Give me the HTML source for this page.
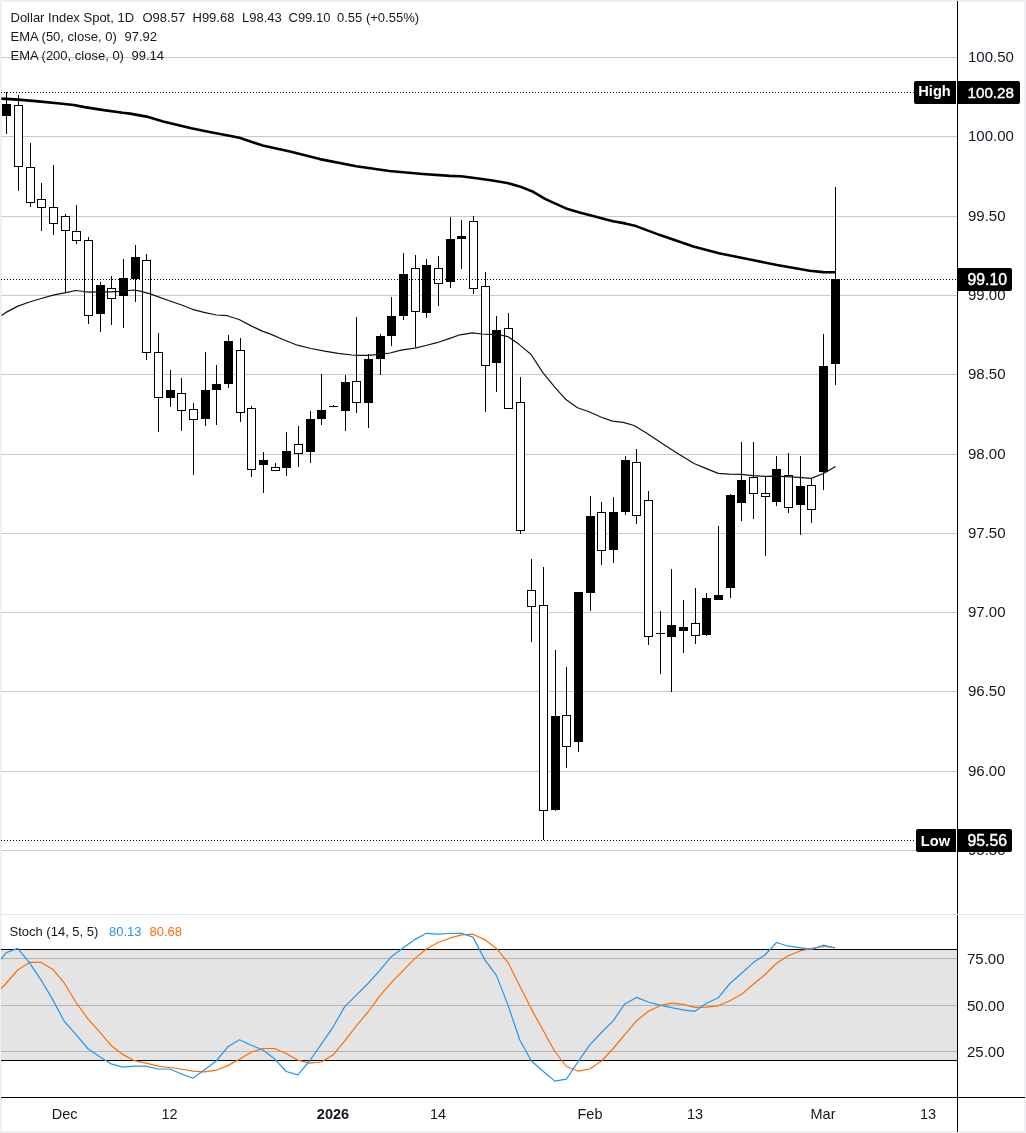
<!DOCTYPE html><html><head><meta charset="utf-8"><title>Dollar Index Spot chart</title><style>
html,body{margin:0;padding:0;background:#eef0f3;width:1026px;height:1133px;overflow:hidden}
svg{position:absolute;left:0;top:0;display:block;will-change:transform}
text{font-family:"Liberation Sans",Arial,sans-serif}
</style></head><body>
<svg width="1026" height="1133" viewBox="0 0 1026 1133">
<rect x="2" y="2" width="1022" height="1129" fill="#ffffff"/>
<g shape-rendering="crispEdges">
<rect x="1" y="57" width="956" height="1" fill="#c9c9c9"/>
<rect x="1" y="136" width="956" height="1" fill="#c9c9c9"/>
<rect x="1" y="216" width="956" height="1" fill="#c9c9c9"/>
<rect x="1" y="295" width="956" height="1" fill="#c9c9c9"/>
<rect x="1" y="374" width="956" height="1" fill="#c9c9c9"/>
<rect x="1" y="454" width="956" height="1" fill="#c9c9c9"/>
<rect x="1" y="533" width="956" height="1" fill="#c9c9c9"/>
<rect x="1" y="612" width="956" height="1" fill="#c9c9c9"/>
<rect x="1" y="691" width="956" height="1" fill="#c9c9c9"/>
<rect x="1" y="771" width="956" height="1" fill="#c9c9c9"/>
<rect x="1" y="850" width="956" height="1" fill="#c9c9c9"/>
<rect x="1" y="950" width="956" height="110" fill="#e4e4e4"/>
<rect x="1" y="958" width="956" height="1" fill="#b4b4b4"/>
<rect x="1" y="1005" width="956" height="1" fill="#b4b4b4"/>
<rect x="1" y="1051" width="956" height="1" fill="#b4b4b4"/>
<rect x="1" y="949" width="956" height="1" fill="#000"/>
<rect x="1" y="1060" width="956" height="1" fill="#000"/>
</g>
<g shape-rendering="crispEdges">
<rect x="6" y="92" width="1" height="42" fill="#000"/>
<rect x="2" y="104" width="9" height="12" fill="#000"/>
<rect x="18" y="95" width="1" height="96" fill="#000"/>
<rect x="14" y="105" width="9" height="62" fill="#000"/>
<rect x="15" y="106" width="7" height="60" fill="#fff"/>
<rect x="30" y="143" width="1" height="64" fill="#000"/>
<rect x="26" y="167" width="9" height="36" fill="#000"/>
<rect x="27" y="168" width="7" height="34" fill="#fff"/>
<rect x="41" y="183" width="1" height="48" fill="#000"/>
<rect x="37" y="199" width="9" height="9" fill="#000"/>
<rect x="38" y="200" width="7" height="7" fill="#fff"/>
<rect x="53" y="165" width="1" height="70" fill="#000"/>
<rect x="49" y="207" width="9" height="17" fill="#000"/>
<rect x="50" y="208" width="7" height="15" fill="#fff"/>
<rect x="65" y="214" width="1" height="78" fill="#000"/>
<rect x="61" y="216" width="9" height="15" fill="#000"/>
<rect x="62" y="217" width="7" height="13" fill="#fff"/>
<rect x="76" y="205" width="1" height="39" fill="#000"/>
<rect x="72" y="231" width="9" height="10" fill="#000"/>
<rect x="73" y="232" width="7" height="8" fill="#fff"/>
<rect x="88" y="237" width="1" height="87" fill="#000"/>
<rect x="84" y="240" width="9" height="76" fill="#000"/>
<rect x="85" y="241" width="7" height="74" fill="#fff"/>
<rect x="100" y="282" width="1" height="50" fill="#000"/>
<rect x="96" y="285" width="9" height="29" fill="#000"/>
<rect x="111" y="276" width="1" height="49" fill="#000"/>
<rect x="107" y="288" width="9" height="11" fill="#000"/>
<rect x="108" y="289" width="7" height="9" fill="#fff"/>
<rect x="123" y="259" width="1" height="69" fill="#000"/>
<rect x="119" y="278" width="9" height="18" fill="#000"/>
<rect x="135" y="245" width="1" height="57" fill="#000"/>
<rect x="131" y="257" width="9" height="22" fill="#000"/>
<rect x="146" y="254" width="1" height="106" fill="#000"/>
<rect x="142" y="260" width="9" height="93" fill="#000"/>
<rect x="143" y="261" width="7" height="91" fill="#fff"/>
<rect x="158" y="333" width="1" height="99" fill="#000"/>
<rect x="154" y="352" width="9" height="46" fill="#000"/>
<rect x="155" y="353" width="7" height="44" fill="#fff"/>
<rect x="170" y="370" width="1" height="37" fill="#000"/>
<rect x="166" y="390" width="9" height="8" fill="#000"/>
<rect x="181" y="378" width="1" height="53" fill="#000"/>
<rect x="177" y="393" width="9" height="18" fill="#000"/>
<rect x="178" y="394" width="7" height="16" fill="#fff"/>
<rect x="193" y="403" width="1" height="72" fill="#000"/>
<rect x="189" y="409" width="9" height="11" fill="#000"/>
<rect x="190" y="410" width="7" height="9" fill="#fff"/>
<rect x="205" y="352" width="1" height="74" fill="#000"/>
<rect x="201" y="390" width="9" height="29" fill="#000"/>
<rect x="216" y="365" width="1" height="60" fill="#000"/>
<rect x="212" y="384" width="9" height="6" fill="#000"/>
<rect x="228" y="335" width="1" height="53" fill="#000"/>
<rect x="224" y="341" width="9" height="43" fill="#000"/>
<rect x="240" y="338" width="1" height="84" fill="#000"/>
<rect x="236" y="350" width="9" height="63" fill="#000"/>
<rect x="237" y="351" width="7" height="61" fill="#fff"/>
<rect x="251" y="406" width="1" height="71" fill="#000"/>
<rect x="247" y="408" width="9" height="62" fill="#000"/>
<rect x="248" y="409" width="7" height="60" fill="#fff"/>
<rect x="263" y="452" width="1" height="41" fill="#000"/>
<rect x="259" y="460" width="9" height="5" fill="#000"/>
<rect x="275" y="463" width="1" height="8" fill="#000"/>
<rect x="271" y="467" width="9" height="4" fill="#000"/>
<rect x="272" y="468" width="7" height="2" fill="#fff"/>
<rect x="286" y="432" width="1" height="44" fill="#000"/>
<rect x="282" y="451" width="9" height="17" fill="#000"/>
<rect x="298" y="426" width="1" height="41" fill="#000"/>
<rect x="294" y="444" width="9" height="10" fill="#000"/>
<rect x="295" y="445" width="7" height="8" fill="#fff"/>
<rect x="310" y="411" width="1" height="52" fill="#000"/>
<rect x="306" y="419" width="9" height="33" fill="#000"/>
<rect x="321" y="374" width="1" height="51" fill="#000"/>
<rect x="317" y="410" width="9" height="9" fill="#000"/>
<rect x="333" y="405" width="1" height="2" fill="#000"/>
<rect x="329" y="406" width="9" height="1" fill="#000"/>
<rect x="345" y="375" width="1" height="56" fill="#000"/>
<rect x="341" y="382" width="9" height="29" fill="#000"/>
<rect x="356" y="317" width="1" height="96" fill="#000"/>
<rect x="352" y="381" width="9" height="22" fill="#000"/>
<rect x="353" y="382" width="7" height="20" fill="#fff"/>
<rect x="368" y="354" width="1" height="74" fill="#000"/>
<rect x="364" y="359" width="9" height="44" fill="#000"/>
<rect x="380" y="334" width="1" height="41" fill="#000"/>
<rect x="376" y="336" width="9" height="23" fill="#000"/>
<rect x="391" y="297" width="1" height="49" fill="#000"/>
<rect x="387" y="316" width="9" height="20" fill="#000"/>
<rect x="403" y="253" width="1" height="67" fill="#000"/>
<rect x="399" y="274" width="9" height="42" fill="#000"/>
<rect x="415" y="255" width="1" height="92" fill="#000"/>
<rect x="411" y="268" width="9" height="44" fill="#000"/>
<rect x="412" y="269" width="7" height="42" fill="#fff"/>
<rect x="426" y="259" width="1" height="59" fill="#000"/>
<rect x="422" y="265" width="9" height="48" fill="#000"/>
<rect x="438" y="256" width="1" height="50" fill="#000"/>
<rect x="434" y="268" width="9" height="16" fill="#000"/>
<rect x="435" y="269" width="7" height="14" fill="#fff"/>
<rect x="450" y="217" width="1" height="71" fill="#000"/>
<rect x="446" y="239" width="9" height="43" fill="#000"/>
<rect x="461" y="220" width="1" height="49" fill="#000"/>
<rect x="457" y="236" width="9" height="3" fill="#000"/>
<rect x="473" y="216" width="1" height="78" fill="#000"/>
<rect x="469" y="221" width="9" height="68" fill="#000"/>
<rect x="470" y="222" width="7" height="66" fill="#fff"/>
<rect x="485" y="272" width="1" height="140" fill="#000"/>
<rect x="481" y="286" width="9" height="80" fill="#000"/>
<rect x="482" y="287" width="7" height="78" fill="#fff"/>
<rect x="496" y="316" width="1" height="76" fill="#000"/>
<rect x="492" y="330" width="9" height="33" fill="#000"/>
<rect x="508" y="313" width="1" height="96" fill="#000"/>
<rect x="504" y="328" width="9" height="81" fill="#000"/>
<rect x="505" y="329" width="7" height="79" fill="#fff"/>
<rect x="520" y="377" width="1" height="157" fill="#000"/>
<rect x="516" y="402" width="9" height="129" fill="#000"/>
<rect x="517" y="403" width="7" height="127" fill="#fff"/>
<rect x="531" y="559" width="1" height="83" fill="#000"/>
<rect x="527" y="590" width="9" height="17" fill="#000"/>
<rect x="528" y="591" width="7" height="15" fill="#fff"/>
<rect x="543" y="567" width="1" height="273" fill="#000"/>
<rect x="539" y="605" width="9" height="206" fill="#000"/>
<rect x="540" y="606" width="7" height="204" fill="#fff"/>
<rect x="555" y="650" width="1" height="161" fill="#000"/>
<rect x="551" y="716" width="9" height="94" fill="#000"/>
<rect x="566" y="667" width="1" height="101" fill="#000"/>
<rect x="562" y="715" width="9" height="32" fill="#000"/>
<rect x="563" y="716" width="7" height="30" fill="#fff"/>
<rect x="578" y="592" width="1" height="160" fill="#000"/>
<rect x="574" y="592" width="9" height="150" fill="#000"/>
<rect x="590" y="496" width="1" height="115" fill="#000"/>
<rect x="586" y="516" width="9" height="77" fill="#000"/>
<rect x="601" y="502" width="1" height="63" fill="#000"/>
<rect x="597" y="512" width="9" height="39" fill="#000"/>
<rect x="598" y="513" width="7" height="37" fill="#fff"/>
<rect x="613" y="497" width="1" height="66" fill="#000"/>
<rect x="609" y="512" width="9" height="38" fill="#000"/>
<rect x="625" y="456" width="1" height="59" fill="#000"/>
<rect x="621" y="460" width="9" height="52" fill="#000"/>
<rect x="636" y="449" width="1" height="75" fill="#000"/>
<rect x="632" y="462" width="9" height="54" fill="#000"/>
<rect x="633" y="463" width="7" height="52" fill="#fff"/>
<rect x="648" y="491" width="1" height="154" fill="#000"/>
<rect x="644" y="500" width="9" height="137" fill="#000"/>
<rect x="645" y="501" width="7" height="135" fill="#fff"/>
<rect x="660" y="611" width="1" height="63" fill="#000"/>
<rect x="656" y="633" width="9" height="1" fill="#000"/>
<rect x="671" y="569" width="1" height="123" fill="#000"/>
<rect x="667" y="625" width="9" height="12" fill="#000"/>
<rect x="683" y="600" width="1" height="53" fill="#000"/>
<rect x="679" y="627" width="9" height="4" fill="#000"/>
<rect x="695" y="588" width="1" height="56" fill="#000"/>
<rect x="691" y="623" width="9" height="13" fill="#000"/>
<rect x="692" y="624" width="7" height="11" fill="#fff"/>
<rect x="706" y="593" width="1" height="43" fill="#000"/>
<rect x="702" y="598" width="9" height="37" fill="#000"/>
<rect x="718" y="526" width="1" height="74" fill="#000"/>
<rect x="714" y="595" width="9" height="5" fill="#000"/>
<rect x="730" y="494" width="1" height="104" fill="#000"/>
<rect x="726" y="495" width="9" height="93" fill="#000"/>
<rect x="741" y="442" width="1" height="79" fill="#000"/>
<rect x="737" y="480" width="9" height="23" fill="#000"/>
<rect x="753" y="442" width="1" height="77" fill="#000"/>
<rect x="749" y="477" width="9" height="17" fill="#000"/>
<rect x="750" y="478" width="7" height="15" fill="#fff"/>
<rect x="765" y="477" width="1" height="79" fill="#000"/>
<rect x="761" y="493" width="9" height="4" fill="#000"/>
<rect x="762" y="494" width="7" height="2" fill="#fff"/>
<rect x="776" y="456" width="1" height="50" fill="#000"/>
<rect x="772" y="469" width="9" height="33" fill="#000"/>
<rect x="788" y="453" width="1" height="60" fill="#000"/>
<rect x="784" y="475" width="9" height="33" fill="#000"/>
<rect x="785" y="476" width="7" height="31" fill="#fff"/>
<rect x="800" y="456" width="1" height="79" fill="#000"/>
<rect x="796" y="486" width="9" height="19" fill="#000"/>
<rect x="811" y="478" width="1" height="45" fill="#000"/>
<rect x="807" y="485" width="9" height="25" fill="#000"/>
<rect x="808" y="486" width="7" height="23" fill="#fff"/>
<rect x="823" y="334" width="1" height="156" fill="#000"/>
<rect x="819" y="366" width="9" height="106" fill="#000"/>
<rect x="835" y="187" width="1" height="198" fill="#000"/>
<rect x="831" y="279" width="9" height="85" fill="#000"/>
</g>
<line x1="1" y1="92.5" x2="957" y2="92.5" stroke="#000" stroke-width="1" stroke-dasharray="1 2" shape-rendering="crispEdges"/>
<line x1="1" y1="279.5" x2="957" y2="279.5" stroke="#000" stroke-width="1" stroke-dasharray="1 2" shape-rendering="crispEdges"/>
<line x1="1" y1="840.5" x2="957" y2="840.5" stroke="#000" stroke-width="1" stroke-dasharray="1 2" shape-rendering="crispEdges"/>
<polyline points="1.6,315.5 6.5,312.1 17.9,306.1 29.6,302.0 41.3,298.5 53.0,295.2 64.7,292.9 75.8,290.5 84.0,291.5 88.0,292.1 99.9,291.9 111.6,291.8 119.9,291.3 128.5,290.5 133.5,290.0 140.2,291.1 150.2,293.9 157.7,296.6 169.3,300.7 180.9,304.8 192.5,309.3 204.1,312.3 216.4,315.0 227.3,315.7 239.6,319.8 251.2,325.9 262.8,331.4 270.0,333.9 283.6,339.7 297.3,345.2 310.9,348.5 324.6,351.2 338.2,353.4 351.9,355.0 357.3,355.3 368.2,355.3 376.4,354.7 390.0,353.0 401.0,350.2 415.0,348.2 425.9,345.5 436.8,342.7 449.1,338.6 460.0,334.8 472.3,332.9 481.9,334.0 490.0,334.3 498.2,334.5 507.8,336.6 518.7,344.1 525.0,349.4 531.1,354.5 542.7,372.3 554.3,386.6 565.9,399.6 577.5,407.8 589.1,411.8 601.4,417.3 612.3,421.1 623.2,422.4 634.1,425.5 646.4,433.0 659.6,441.8 671.4,449.5 682.2,456.3 694.0,463.5 705.8,468.4 718.1,473.4 729.3,474.2 741.1,474.3 752.9,475.6 765.7,476.4 775.8,476.1 786.0,476.7 798.6,477.4 811.3,478.4 824.0,473.2 835.5,466.4" fill="none" stroke="#111" stroke-width="1.2" stroke-linejoin="round" stroke-linecap="butt"/>
<polyline points="1.4,98.6 18.4,99.6 40.9,101.6 57.3,103.3 73.7,105.0 84.6,107.1 103.7,110.1 122.8,112.8 130.0,113.6 146.6,116.6 163.1,121.6 191.3,128.2 209.5,132.0 229.4,135.7 239.4,137.8 262.6,145.6 290.0,151.6 319.8,159.1 356.3,166.2 389.4,171.0 422.6,174.0 450.0,175.9 460.9,176.3 474.6,178.0 490.9,180.3 507.3,183.0 519.6,186.4 531.9,191.2 545.5,199.1 566.0,208.4 579.6,212.5 613.0,221.2 625.0,223.4 636.0,226.1 660.0,235.1 693.3,246.6 719.0,253.3 751.2,259.8 777.0,265.0 809.6,270.8 823.3,272.1 835.5,272.2" fill="none" stroke="#000" stroke-width="2.6" stroke-linejoin="round" stroke-linecap="butt"/>
<defs><clipPath id="sc"><rect x="1" y="915" width="956" height="182"/></clipPath><clipPath id="mc"><rect x="2" y="2" width="955" height="912"/></clipPath></defs>
<g clip-path="url(#sc)">
<polyline points="-5.7,995.7 6.0,983.5 17.7,970.0 29.4,962.4 41.0,962.4 52.7,969.2 64.4,983.2 76.1,1002.5 87.7,1018.6 99.4,1031.7 111.1,1045.6 122.8,1054.4 134.4,1060.7 146.1,1063.2 157.8,1066.1 169.5,1067.5 181.1,1069.0 192.8,1071.2 204.5,1071.9 216.2,1070.2 227.8,1065.6 239.5,1059.2 251.2,1052.2 262.9,1048.5 274.5,1048.5 286.2,1053.5 297.9,1060.2 309.6,1063.2 321.3,1062.0 332.9,1055.1 344.6,1041.2 356.3,1025.9 368.0,1012.0 379.6,996.2 391.3,982.7 403.0,970.6 414.7,958.6 426.3,949.0 438.0,942.5 449.7,938.2 461.4,934.9 473.0,934.2 484.7,939.6 496.4,948.4 508.1,962.7 519.7,985.7 531.4,1009.1 543.1,1030.3 554.8,1051.5 566.4,1066.5 578.1,1071.2 589.8,1069.0 601.5,1061.0 613.2,1048.5 624.8,1034.6 636.5,1020.8 648.2,1011.5 659.9,1005.7 671.5,1003.2 683.2,1004.4 694.9,1007.3 706.6,1007.2 718.2,1005.8 729.9,1000.7 741.6,994.2 753.3,984.2 764.9,974.7 776.6,963.3 788.3,955.7 800.0,951.0 811.6,948.4 823.3,946.5 835.0,947.7" fill="none" stroke="#ff6d00" stroke-width="1.2" stroke-linejoin="round" stroke-linecap="butt"/>
<polyline points="-5.7,968.0 6.0,952.8 17.7,948.4 29.4,962.7 41.0,979.8 52.7,999.6 64.4,1021.5 76.1,1034.6 87.7,1048.5 99.4,1056.6 111.1,1063.9 122.8,1067.1 134.4,1066.1 146.1,1066.1 157.8,1069.0 169.5,1069.0 181.1,1073.7 192.8,1078.2 204.5,1069.7 216.2,1061.0 227.8,1046.8 239.5,1039.8 251.2,1045.2 262.9,1050.0 274.5,1058.8 286.2,1071.5 297.9,1074.9 309.6,1061.0 321.3,1044.2 332.9,1027.3 344.6,1006.9 356.3,995.2 368.0,983.5 379.6,970.6 391.3,956.7 403.0,948.1 414.7,939.6 426.3,933.3 438.0,934.1 449.7,933.5 461.4,933.3 473.0,937.1 484.7,959.6 496.4,975.4 508.1,1005.4 519.7,1039.8 531.4,1061.0 543.1,1071.2 554.8,1081.1 566.4,1079.1 578.1,1061.7 589.8,1044.9 601.5,1032.5 613.2,1020.8 624.8,1003.9 636.5,997.4 648.2,1002.0 659.9,1005.1 671.5,1007.6 683.2,1009.8 694.9,1011.3 706.6,1003.2 718.2,997.8 729.9,983.5 741.6,973.2 753.3,962.6 764.9,955.0 776.6,942.5 788.3,946.2 800.0,947.7 811.6,949.4 823.3,945.2 835.0,948.0" fill="none" stroke="#2196f3" stroke-width="1.2" stroke-linejoin="round" stroke-linecap="butt"/>
</g>
<g shape-rendering="crispEdges">
<rect x="1" y="914" width="1024" height="1" fill="#e0e3eb"/>
<rect x="957" y="1" width="1" height="913" fill="#000"/>
<rect x="957" y="915" width="1" height="217" fill="#000"/>
<rect x="1" y="1097" width="1024" height="1" fill="#000"/>
</g>
<text x="968" y="62.1" font-size="15" fill="#131722">100.50</text>
<text x="968" y="141.1" font-size="15" fill="#131722">100.00</text>
<text x="968" y="221.1" font-size="15" fill="#131722">99.50</text>
<text x="968" y="300.1" font-size="15" fill="#131722">99.00</text>
<text x="968" y="379.1" font-size="15" fill="#131722">98.50</text>
<text x="968" y="459.1" font-size="15" fill="#131722">98.00</text>
<text x="968" y="538.1" font-size="15" fill="#131722">97.50</text>
<text x="968" y="617.1" font-size="15" fill="#131722">97.00</text>
<text x="968" y="696.1" font-size="15" fill="#131722">96.50</text>
<text x="968" y="776.1" font-size="15" fill="#131722">96.00</text>
<text x="968" y="855.1" font-size="15" fill="#131722">95.50</text>
<text x="967" y="964.0" font-size="15" fill="#131722">75.00</text>
<text x="967" y="1010.5" font-size="15" fill="#131722">50.00</text>
<text x="967" y="1056.5" font-size="15" fill="#131722">25.00</text>
<path d="M957 268 H1010 Q1012 268 1012 270 V289 Q1012 291 1010 291 H957 Z" fill="#000"/><text x="967.5" y="284.6" font-size="15.8" fill="#fff" stroke="#fff" stroke-width="0.4">99.10</text>
<path d="M957 81 H1018 Q1020 81 1020 83 V102 Q1020 104 1018 104 H957 Z" fill="#000"/><text x="967.5" y="97.6" font-size="15.2" fill="#fff" stroke="#fff" stroke-width="0.4">100.28</text>
<path d="M957 829 H1010 Q1012 829 1012 831 V850 Q1012 852 1010 852 H957 Z" fill="#000"/><text x="967.5" y="845.6" font-size="15.8" fill="#fff" stroke="#fff" stroke-width="0.4">95.56</text>
<path d="M956 81 H916 Q914 81 914 83 V102 Q914 104 916 104 H956 Z" fill="#000"/><text x="918.3" y="95.8" font-size="14.6" font-weight="bold" fill="#fff">High</text>
<path d="M956 829 H918 Q916 829 916 831 V850 Q916 852 918 852 H956 Z" fill="#000"/><text x="920.8" y="846" font-size="14.6" font-weight="bold" fill="#fff">Low</text>
<text y="21.7" font-size="13" fill="#131722"><tspan x="10.5">Dollar Index Spot, 1D</tspan><tspan x="142.5">O98.57</tspan><tspan x="192.5">H99.68</tspan><tspan x="242">L98.43</tspan><tspan x="288.5">C99.10</tspan><tspan x="337">0.55 (+0.55%)</tspan></text>
<text y="40.8" font-size="13" fill="#131722"><tspan x="10.5">EMA (50, close, 0)</tspan><tspan x="124.5">97.92</tspan></text>
<text y="59.8" font-size="13" fill="#131722"><tspan x="10.5">EMA (200, close, 0)</tspan><tspan x="131.5">99.14</tspan></text>
<text y="936" font-size="13" fill="#131722"><tspan x="9.5">Stoch (14, 5, 5)</tspan><tspan x="109" fill="#2196f3">80.13</tspan><tspan x="149.5" fill="#ff6d00">80.68</tspan></text>
<text x="64.7" y="1118.5" font-size="14.5" text-anchor="middle" fill="#131722">Dec</text>
<text x="169.5" y="1118.5" font-size="14.5" text-anchor="middle" fill="#131722">12</text>
<text x="333" y="1118.5" font-size="14.5" text-anchor="middle" fill="#131722" font-weight="bold">2026</text>
<text x="438" y="1118.5" font-size="14.5" text-anchor="middle" fill="#131722">14</text>
<text x="590" y="1118.5" font-size="14.5" text-anchor="middle" fill="#131722">Feb</text>
<text x="695" y="1118.5" font-size="14.5" text-anchor="middle" fill="#131722">13</text>
<text x="823" y="1118.5" font-size="14.5" text-anchor="middle" fill="#131722">Mar</text>
<text x="928" y="1118.5" font-size="14.5" text-anchor="middle" fill="#131722">13</text>
</svg></body></html>
